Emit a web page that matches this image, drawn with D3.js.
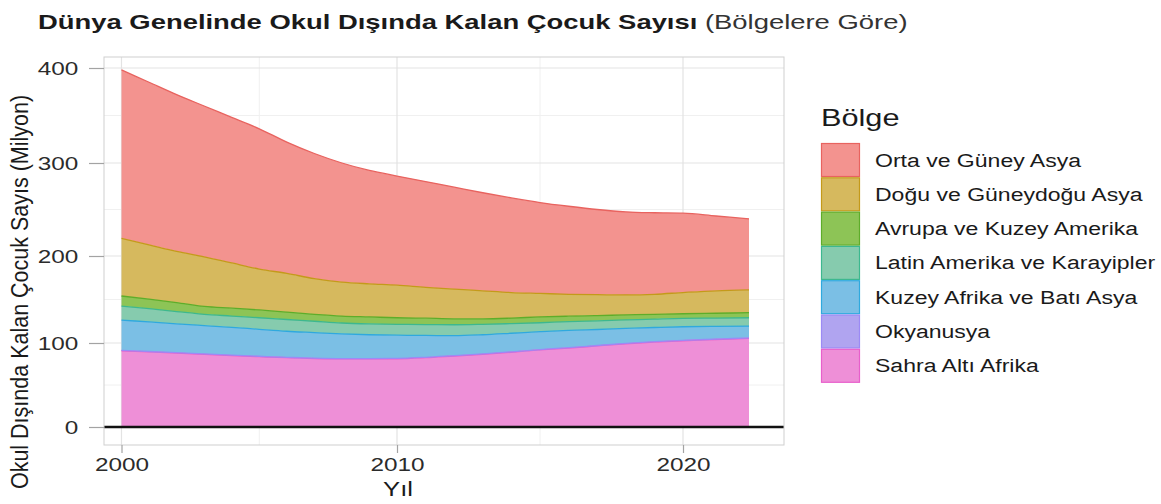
<!DOCTYPE html>
<html lang="tr">
<head>
<meta charset="UTF-8">
<title>Okul Dışında Kalan Çocuk Sayısı</title>
<script src="https://d3js.org/d3.v7.min.js"></script>
<style>
  body { margin: 0; background: #fff; }
  svg text { font-family: 'Liberation Sans', Arial, Helvetica, sans-serif; }
</style>
</head>
<body>
<div id="chart"></div>
<script>
// values in millions
const years = [2000, 2001, 2002, 2003, 2004, 2005, 2006, 2007, 2008, 2009, 2010, 2011,
               2012, 2013, 2014, 2015, 2016, 2017, 2018, 2019, 2020, 2021, 2022];
const sahraAltiAfrika = [90.8, 89.4, 88.0, 86.5, 85.0, 83.7, 82.5, 81.5, 81.0, 81.0, 81.2, 82.5,
                         84.5, 86.5, 89.0, 91.7, 94.0, 96.5, 99.0, 101.0, 102.6, 104.0, 105.4];
const okyanusya = [0.5, 0.5, 0.5, 0.5, 0.5, 0.5, 0.5, 0.5, 0.5, 0.5, 0.5, 0.5,
                   0.5, 0.5, 0.5, 0.5, 0.5, 0.5, 0.5, 0.5, 0.5, 0.5, 0.5];
const kuzeyAfrikaBatiAsya = [35.1, 34.3, 33.5, 33.0, 32.5, 31.5, 30.5, 30.0, 29.0, 28.0, 27.3, 25.7,
                             23.5, 22.5, 21.7, 20.8, 20.0, 18.5, 17.2, 16.3, 15.6, 14.7, 13.6];
const latinAmerika = [16.1, 15.3, 14.0, 13.0, 13.0, 13.3, 13.5, 13.0, 12.5, 12.5, 12.5, 12.5,
                      12.5, 12.0, 11.1, 10.3, 10.0, 10.0, 9.8, 9.7, 9.7, 9.5, 9.5];
const avrupaKuzeyAmerika = [11.5, 11.0, 10.5, 9.0, 9.0, 9.0, 8.5, 8.0, 8.0, 8.0, 7.5, 7.3,
                            6.8, 6.3, 6.3, 6.7, 6.3, 6.0, 5.8, 5.5, 5.2, 5.5, 5.8];
const doguGuneydoguAsya = [65.0, 61.5, 58.5, 57.0, 52.0, 47.0, 44.5, 41.0, 39.0, 38.0, 37.5, 35.5,
                           34.2, 32.2, 29.4, 27.0, 25.2, 24.0, 23.0, 23.0, 24.4, 25.8, 26.2];
const ortaGuneyAsya = [179, 173, 167, 161, 156, 151, 142, 136, 130, 124, 119.5, 116,
                       112, 108, 104.5, 100.5, 97.5, 94.5, 92.2, 90.5, 88, 83, 79];

const regionNames = ["Orta ve Güney Asya", "Doğu ve Güneydoğu Asya", "Avrupa ve Kuzey Amerika",
                     "Latin Amerika ve Karayipler", "Kuzey Afrika ve Batı Asya", "Okyanusya", "Sahra Altı Afrika"];
const regionValues = [ortaGuneyAsya, doguGuneydoguAsya, avrupaKuzeyAmerika, latinAmerika,
                      kuzeyAfrikaBatiAsya, okyanusya, sahraAltiAfrika];
const fillColors = ["#F3938F", "#D6B95E", "#8DC456", "#86CBAE", "#7BBFE5", "#B0A4F0", "#EE8FD7"];
const lineColors = ["#E8635F", "#C49A1A", "#5EAD2A", "#3DB88F", "#2FA9DE", "#9C8AF5", "#E85FCB"];

const yTicks = [0, 100, 200, 300, 400];
const yMinor = [50, 150, 250, 350];
const xTicks = [2000, 2010, 2020];
const xMinor = [2005, 2015];

const width = 1161, height = 504;
const SX = 1.28; // text in the picture is drawn wider than it is tall
const panel = { left: 104, right: 784, top: 57, bottom: 445 };

const svg = d3.select("#chart").append("svg")
    .attr("width", width)
    .attr("height", height);

// the picture is not evenly spaced, so both scales are piecewise
const x = d3.scaleLinear().domain([2000, 2010, 2020, 2022]).range([121.5, 397, 683, 749]);
const y = d3.scaleLinear().domain([0, 100, 200, 300, 400]).range([427, 343, 256, 163, 68]);

// title
const title = svg.append("text")
    .attr("font-size", 21)
    .attr("fill", "#1a1a1a");
title.append("tspan").attr("font-weight", "bold").text("Dünya Genelinde Okul Dışında Kalan Çocuk Sayısı ");
title.append("tspan").attr("fill", "#333").text("(Bölgelere Göre)");
const tw = title.node().getComputedTextLength();
title.attr("transform", `translate(38,29) scale(${870 / tw},1)`);

// grid
const grid = svg.append("g");
grid.selectAll(".ymin").data(yMinor).enter().append("line")
    .attr("x1", panel.left).attr("x2", panel.right)
    .attr("y1", d => y(d)).attr("y2", d => y(d))
    .attr("stroke", "#f0f0f0").attr("stroke-width", 1);
grid.selectAll(".xmin").data(xMinor).enter().append("line")
    .attr("x1", d => x(d)).attr("x2", d => x(d))
    .attr("y1", panel.top).attr("y2", panel.bottom)
    .attr("stroke", "#f0f0f0").attr("stroke-width", 1);
grid.selectAll(".ymaj").data(yTicks).enter().append("line")
    .attr("x1", panel.left).attr("x2", panel.right)
    .attr("y1", d => y(d)).attr("y2", d => y(d))
    .attr("stroke", "#e3e3e3").attr("stroke-width", 1.2);
grid.selectAll(".xmaj").data(xTicks).enter().append("line")
    .attr("x1", d => x(d)).attr("x2", d => x(d))
    .attr("y1", panel.top).attr("y2", panel.bottom)
    .attr("stroke", "#e3e3e3").attr("stroke-width", 1.2);

// stacked areas, Sahra Altı Afrika at the bottom
const stackOrder = regionNames.slice().reverse();
const table = years.map((yr, i) => {
    const row = { year: yr };
    regionNames.forEach((name, k) => { row[name] = regionValues[k][i]; });
    return row;
});
const series = d3.stack().keys(stackOrder)(table);
const color = d3.scaleOrdinal().domain(regionNames).range(fillColors);
const stroke = d3.scaleOrdinal().domain(regionNames).range(lineColors);

const area = d3.area()
    .x(d => x(d.data.year))
    .y0(d => y(d[0]))
    .y1(d => y(d[1]))
    .curve(d3.curveMonotoneX);
const topLine = d3.line()
    .x(d => x(d.data.year))
    .y(d => y(d[1]))
    .curve(d3.curveMonotoneX);

svg.append("g").selectAll("path")
    .data(series)
    .enter().append("path")
    .attr("d", area)
    .attr("fill", d => color(d.key));
svg.append("g").selectAll("path")
    .data(series)
    .enter().append("path")
    .attr("d", topLine)
    .attr("fill", "none")
    .attr("stroke", d => stroke(d.key))
    .attr("stroke-width", 1.3);

// zero line
svg.append("line")
    .attr("x1", panel.left).attr("x2", panel.right)
    .attr("y1", y(0)).attr("y2", y(0))
    .attr("stroke", "#111").attr("stroke-width", 2.6);

// panel border
svg.append("rect")
    .attr("x", panel.left).attr("y", panel.top)
    .attr("width", panel.right - panel.left)
    .attr("height", panel.bottom - panel.top)
    .attr("fill", "none")
    .attr("stroke", "#cfcfcf");

// axes
const yAxis = svg.append("g")
    .attr("transform", `translate(${panel.left},0)`)
    .call(d3.axisLeft(y).tickValues(yTicks).tickSize(15).tickPadding(5));
const xAxis = svg.append("g")
    .attr("transform", `translate(0,${panel.bottom})`)
    .call(d3.axisBottom(x).tickValues(xTicks).tickFormat(d3.format("d")).tickSize(8).tickPadding(5));
[yAxis, xAxis].forEach(ax => {
    ax.select(".domain").remove();
    ax.selectAll(".tick line").attr("stroke", "#a3a3a3").attr("stroke-width", 1.2);
    ax.selectAll(".tick text")
        .attr("font-size", 19)
        .attr("fill", "#2b2b2b")
        .attr("transform", `scale(${SX},1)`);
});

// axis titles
svg.append("text")
    .attr("transform", "translate(19,292) rotate(-90) scale(1,1.15)")
    .attr("text-anchor", "middle")
    .attr("dominant-baseline", "central")
    .attr("font-size", 21.5)
    .attr("fill", "#1a1a1a")
    .text("Okul Dışında Kalan Çocuk Sayıs (Milyon)");
svg.append("text")
    .attr("transform", `translate(398,496) scale(${SX},1)`)
    .attr("text-anchor", "middle")
    .attr("font-size", 20)
    .attr("fill", "#1a1a1a")
    .text("Yıl");

// legend
const legend = svg.append("g");
legend.append("text")
    .attr("transform", `translate(821,126) scale(${SX},1)`)
    .attr("font-size", 24)
    .attr("fill", "#1a1a1a")
    .text("Bölge");
const keys = legend.selectAll(".key")
    .data(regionNames)
    .enter().append("g")
    .attr("transform", (d, i) => `translate(821,${143 + i * 34.3})`);
keys.append("rect")
    .attr("x", 0.5).attr("y", 0.5)
    .attr("width", 38).attr("height", 33)
    .attr("fill", d => color(d))
    .attr("stroke", d => stroke(d))
    .attr("stroke-width", 1.2);
keys.append("text")
    .attr("transform", `translate(54,17) scale(${SX},1)`)
    .attr("dominant-baseline", "central")
    .attr("font-size", 18)
    .attr("fill", "#1a1a1a")
    .text(d => d);
</script>
</body>
</html>
